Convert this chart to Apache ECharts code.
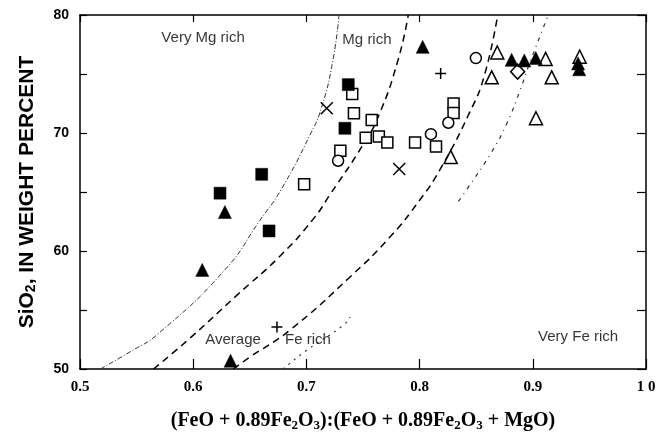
<!DOCTYPE html>
<html>
<head>
<meta charset="utf-8">
<script src="https://cdn.jsdelivr.net/npm/echarts@6/dist/echarts.min.js"></script>
<style>html,body{margin:0;padding:0;background:#fff;}#chart{width:659px;height:442px;}</style>
</head>
<body>
<div id="chart"></div>
<script>
// ---- data ----
var xTickLabels = {'0.5':'0.5','0.6':'0.6','0.7':'0.7','0.8':'0.8','0.9':'0.9','1':'1 0'};
var yTickLabels = {'50':'50','60':'60','70':'70','80':'80'};

var filledSquares = [[0.6237,64.9],[0.6605,66.5],[0.667,61.7],[0.737,74.1],[0.734,70.4]];
var filledTriangles = [[0.608,58.4],[0.628,63.3],[0.633,50.7],[0.8027,77.3],[0.8813,76.2],[0.8925,76.15],[0.9026,76.35],[0.940,75.9],[0.941,75.4]];
var openSquares = [[0.698,65.65],[0.730,68.5],[0.7405,73.3],[0.742,71.67],[0.7577,71.1],[0.7524,69.6],[0.764,69.7],[0.7715,69.2],[0.796,69.2],[0.8145,68.85],[0.830,72.5],[0.830,71.7]];
var openCircles = [[0.728,67.65],[0.810,69.9],[0.8254,70.87],[0.8497,76.35]];
var openTriangles = [[0.8275,67.97],[0.8686,76.82],[0.8637,74.72],[0.9113,76.28],[0.9167,74.72],[0.9414,76.47],[0.9028,71.25]];
var diamonds = [[0.8866,75.2]];
var crosses = [[0.718,72.1],[0.782,66.95]];
var pluses = [[0.8186,75.05],[0.674,53.55]];

var curveVeryMg = [[0.518,50],[0.545,51.5],[0.568,52.9],[0.628,58.4],[0.659,62.6],[0.677,65.1],[0.703,69.8],[0.7135,72.2],[0.7235,76.2],[0.7288,80]];
var curveMg = [[0.565,50],[0.597,52.6],[0.638,56.2],[0.677,59.6],[0.706,62.7],[0.721,64.8],[0.750,69.0],[0.764,71.5],[0.781,76.2],[0.790,80]];
var curveFe = [[0.6354,50],[0.650,51.0],[0.6855,53.3],[0.7385,57.8],[0.774,61.2],[0.800,64.3],[0.818,66.9],[0.844,71.7],[0.857,74.8],[0.869,80]];
var curveVeryFeLow = [[0.6796,50],[0.699,51.5],[0.7326,53.7],[0.7385,54.4]];
var curveVeryFeHigh = [[0.8342,64.2],[0.8416,65.2],[0.8637,68.4],[0.877,70.8],[0.8887,73.6],[0.896,75.6],[0.9137,80]];

var regionLabels = [[0.6087,78.05,'Very Mg rich'],[0.7535,77.9,'Mg rich'],[0.6352,52.46,'Average'],[0.7014,52.46,'Fe rich'],[0.940,52.71,'Very Fe rich']];

// ---- chart ----
var chart = echarts.init(document.getElementById('chart'), null, {renderer:'canvas'});
var SANS = "'Liberation Sans', Arial, sans-serif";
var SERIF = "'Liberation Serif', 'Times New Roman', serif";
var axisLine = {show:true, lineStyle:{color:'#000', width:1.5}};

function markerSeries(data, symbol, size, filled){
  return {
    type:'scatter', data:data, symbol:symbol, symbolSize:size, z:5,
    itemStyle: filled ? {color:'#000', borderColor:'#000', borderWidth:0.5, opacity:1}
                      : {color:'#fff', borderColor:'#000', borderWidth:1.5, opacity:1}
  };
}
function strokeSeries(data, path, size){
  return {
    type:'scatter', data:data, symbol:path, symbolSize:size, z:5,
    itemStyle:{color:'rgba(0,0,0,0)', borderColor:'#000', borderWidth:1.5, opacity:1}
  };
}
function curve(data, type, width, color){
  return {type:'line', data:data, showSymbol:false, smooth:0.5, z:3, silent:true,
    lineStyle:{color:color, width:width, type:type}};
}

chart.setOption({
  animation:false,
  backgroundColor:'#fff',
  grid:{left:80, right:13, top:15, bottom:73},
  xAxis:[{
    type:'value', min:0.5, max:1.0, interval:0.1, position:'bottom',
    axisLine:axisLine, splitLine:{show:false},
    axisTick:{show:true, inside:true, length:10, lineStyle:{color:'#000', width:1.2}},
    axisLabel:{margin:11, fontFamily:SERIF, fontWeight:'bold', fontSize:15, color:'#000',
      formatter:function(v){ var k = String(Math.round(v*10)/10); return xTickLabels[k] || ''; }},
    name:'{t|(FeO + 0.89Fe}{s|2}{t|O}{s|3}{t|):(FeO + 0.89Fe}{s|2}{t|O}{s|3}{t| + MgO)}',
    nameLocation:'middle', nameGap:41,
    nameTextStyle:{fontFamily:SERIF, fontWeight:'bold', fontSize:20, color:'#000',
      rich:{t:{fontFamily:SERIF, fontWeight:'bold', fontSize:20, color:'#000', lineHeight:22, verticalAlign:'middle'},
            s:{fontFamily:SERIF, fontWeight:'bold', fontSize:13, color:'#000', lineHeight:13, verticalAlign:'bottom'}}}
  },{
    type:'value', min:0.5, max:1.0, interval:0.1, position:'top',
    axisLine:axisLine, splitLine:{show:false}, axisLabel:{show:false},
    axisTick:{show:true, inside:true, length:7, lineStyle:{color:'#000', width:1.2}}
  }],
  yAxis:[{
    type:'value', min:50, max:80, interval:5, position:'left',
    axisLine:axisLine, splitLine:{show:false},
    axisTick:{show:true, inside:true, length:7, lineStyle:{color:'#000', width:1.2}},
    axisLabel:{margin:11, fontFamily:SANS, fontWeight:'bold', fontSize:14, color:'#000',
      formatter:function(v){ return yTickLabels[String(v)] || ''; }},
    name:'{t|SiO}{s|2}{t|, IN WEIGHT PERCENT}',
    nameLocation:'middle', nameGap:42, nameRotate:90,
    nameTextStyle:{fontFamily:SANS, fontWeight:'bold', fontSize:21, color:'#000',
      rich:{t:{fontFamily:SANS, fontWeight:'bold', fontSize:21, color:'#000', lineHeight:22, verticalAlign:'middle'},
            s:{fontFamily:SANS, fontWeight:'bold', fontSize:14, color:'#000', lineHeight:14, verticalAlign:'bottom'}}}
  },{
    type:'value', min:50, max:80, interval:5, position:'right',
    axisLine:axisLine, splitLine:{show:false}, axisLabel:{show:false},
    axisTick:{show:true, inside:true, length:9, lineStyle:{color:'#000', width:1.2}}
  }],
  series:[
    curve(curveVeryMg, [5,2,1,2], 1, '#333'),
    curve(curveMg, [7,5], 1.5, '#000'),
    curve(curveFe, [7,5], 1.5, '#000'),
    curve(curveVeryFeLow, [2,5], 1.2, '#333'),
    curve(curveVeryFeHigh, [4,5,1,5], 1.2, '#333'),
    markerSeries(openSquares, 'rect', 11, false),
    markerSeries(openCircles, 'circle', 11, false),
    markerSeries(openTriangles, 'triangle', 13, false),
    markerSeries(diamonds, 'diamond', [14,15], false),
    markerSeries(filledSquares, 'rect', 12, true),
    markerSeries(filledTriangles, 'triangle', 13, true),
    strokeSeries(crosses, 'path://M0,0L10,10M10,0L0,10', 12),
    strokeSeries(pluses, 'path://M5,0L5,10M0,5L10,5', 11),
    {
      type:'scatter', data:regionLabels, symbolSize:1, z:6, silent:true,
      itemStyle:{color:'rgba(0,0,0,0)'},
      label:{show:true, position:'inside', formatter:function(p){return p.data[2];},
        fontFamily:SANS, fontSize:15, color:'#000'}
    }
  ]
});
</script>
</body>
</html>
